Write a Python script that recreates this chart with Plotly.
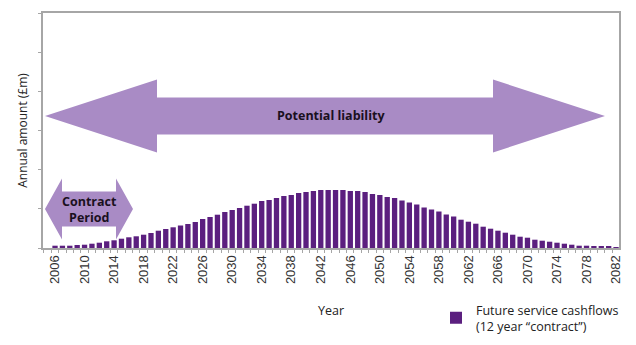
import plotly.graph_objects as go

# ---------------- data ----------------
years = list(range(2006, 2083))
cashflows = [
    2.3, 2.3, 2.3, 3.0, 3.3, 4.3, 5.3, 6.7, 7.7, 9.3,          # 2006-2015
    10.7, 11.7, 13.3, 15.0, 17.3, 19.0, 20.7, 22.5, 24.0, 26.0,  # 2016-2025
    29.0, 31.0, 33.3, 36.0, 38.0, 40.0, 42.3, 44.3, 47.0, 48.0,  # 2026-2035
    50.0, 52.0, 53.0, 55.0, 56.0, 57.0, 58.0, 58.0, 58.0, 58.0,  # 2036-2045
    57.0, 57.0, 56.0, 54.0, 53.0, 51.0, 50.0, 47.5, 45.5, 43.5,  # 2046-2055
    40.5, 38.5, 36.5, 33.5, 31.5, 28.3, 26.3, 24.3, 21.3, 19.3,  # 2056-2065
    17.3, 15.3, 13.3, 11.3, 10.3, 8.3, 7.3, 6.3, 5.3, 4.3,       # 2066-2075
    3.3, 2.3, 2.3, 1.7, 1.7, 1.3, 0.7                            # 2076-2082
]
tick_years = list(range(2006, 2083, 4))
tick_labels = [str(y) for y in tick_years]

series_name = "Future service cashflows<br>(12 year \u201ccontract\u201d)"
y_title = "Annual amount (\u00a3m)"
x_title = "Year"
big_arrow_label = "Potential liability"
small_arrow_label = "Contract<br>Period"

# ---------------- layout helpers (pixel -> paper) ----------------
W, H = 636, 345
L, R, T, B = 43, 619, 13, 248  # plot area in pixels


def px_x(p):
    return (p - L) / (R - L)


def px_y(p):
    return (B - p) / (B - T)


def double_arrow(x0, x1, cy, head_len, head_half, shaft_half):
    pts = [
        (x0, cy),
        (x0 + head_len, cy - head_half),
        (x0 + head_len, cy - shaft_half),
        (x1 - head_len, cy - shaft_half),
        (x1 - head_len, cy - head_half),
        (x1, cy),
        (x1 - head_len, cy + head_half),
        (x1 - head_len, cy + shaft_half),
        (x0 + head_len, cy + shaft_half),
        (x0 + head_len, cy + head_half),
    ]
    d = "M " + " L ".join(f"{px_x(a):.5f},{px_y(b):.5f}" for a, b in pts) + " Z"
    return d


arrow_color = "#a98bc5"
bar_color = "#5b1f7f"
axis_gray = "#a6a6a6"

fig = go.Figure()
fig.add_trace(go.Bar(
    x=years, y=cashflows, name=series_name,
    marker=dict(color=bar_color, line=dict(width=0)),
    width=0.72, showlegend=True,
))

fig.update_layout(
    width=W, height=H,
    margin=dict(l=L, r=W - R, t=T, b=H - B, autoexpand=False),
    paper_bgcolor="white", plot_bgcolor="white",
    showlegend=True,
    legend=dict(
        x=px_x(436), y=px_y(295), xanchor="left", yanchor="top",
        font=dict(family="Open Sans", size=12.5, color="#222222"),
        bgcolor="rgba(0,0,0,0)", itemclick=False,
    ),
    xaxis=dict(
        range=[2004.37, 2082.4],
        tickvals=tick_years, ticktext=tick_labels,
        tickangle=-90, ticks="",
        tickfont=dict(family="Liberation Sans, Arial", size=13, color="#333333"),
        showline=True, linecolor=axis_gray, linewidth=2, mirror=True,
        showgrid=False, zeroline=False,
        minor=dict(ticks="outside", tick0=2005.5, dtick=1, ticklen=3,
                   tickcolor=axis_gray, showgrid=False),
        title=dict(text=x_title, standoff=23,
                   font=dict(family="Open Sans", size=12.5, color="#222222")),
    ),
    yaxis=dict(
        range=[0, B - T], dtick=(B - T) / 6, tick0=0,
        showticklabels=False, ticks="outside", ticklen=3, tickcolor=axis_gray,
        showline=True, linecolor=axis_gray, linewidth=2, mirror=True,
        showgrid=False, zeroline=False,
        title=dict(text=y_title, standoff=8,
                   font=dict(family="Open Sans", size=12, color="#222222")),
    ),
    bargap=0.28,
)

fig.add_shape(type="path", xref="paper", yref="paper",
              path=double_arrow(45, 605, 116, 112, 36.5, 18.5),
              fillcolor=arrow_color, line=dict(width=0), layer="above")
fig.add_shape(type="path", xref="paper", yref="paper",
              path=double_arrow(45, 133, 209, 17, 30.5, 17.5),
              fillcolor=arrow_color, line=dict(width=0), layer="above")

fig.add_annotation(x=px_x(331), y=px_y(116), xref="paper", yref="paper",
                   xanchor="center", yanchor="middle",
                   text=f"<b>{big_arrow_label}</b>", showarrow=False,
                   font=dict(family="Open Sans", size=12.5, color="#1a1020"))
fig.add_annotation(x=px_x(89), y=px_y(209), xref="paper", yref="paper",
                   xanchor="center", yanchor="middle",
                   text=f"<b>{small_arrow_label}</b>", showarrow=False,
                   font=dict(family="Open Sans", size=12.5, color="#1a1020"))

fig.write_html("out.html")
